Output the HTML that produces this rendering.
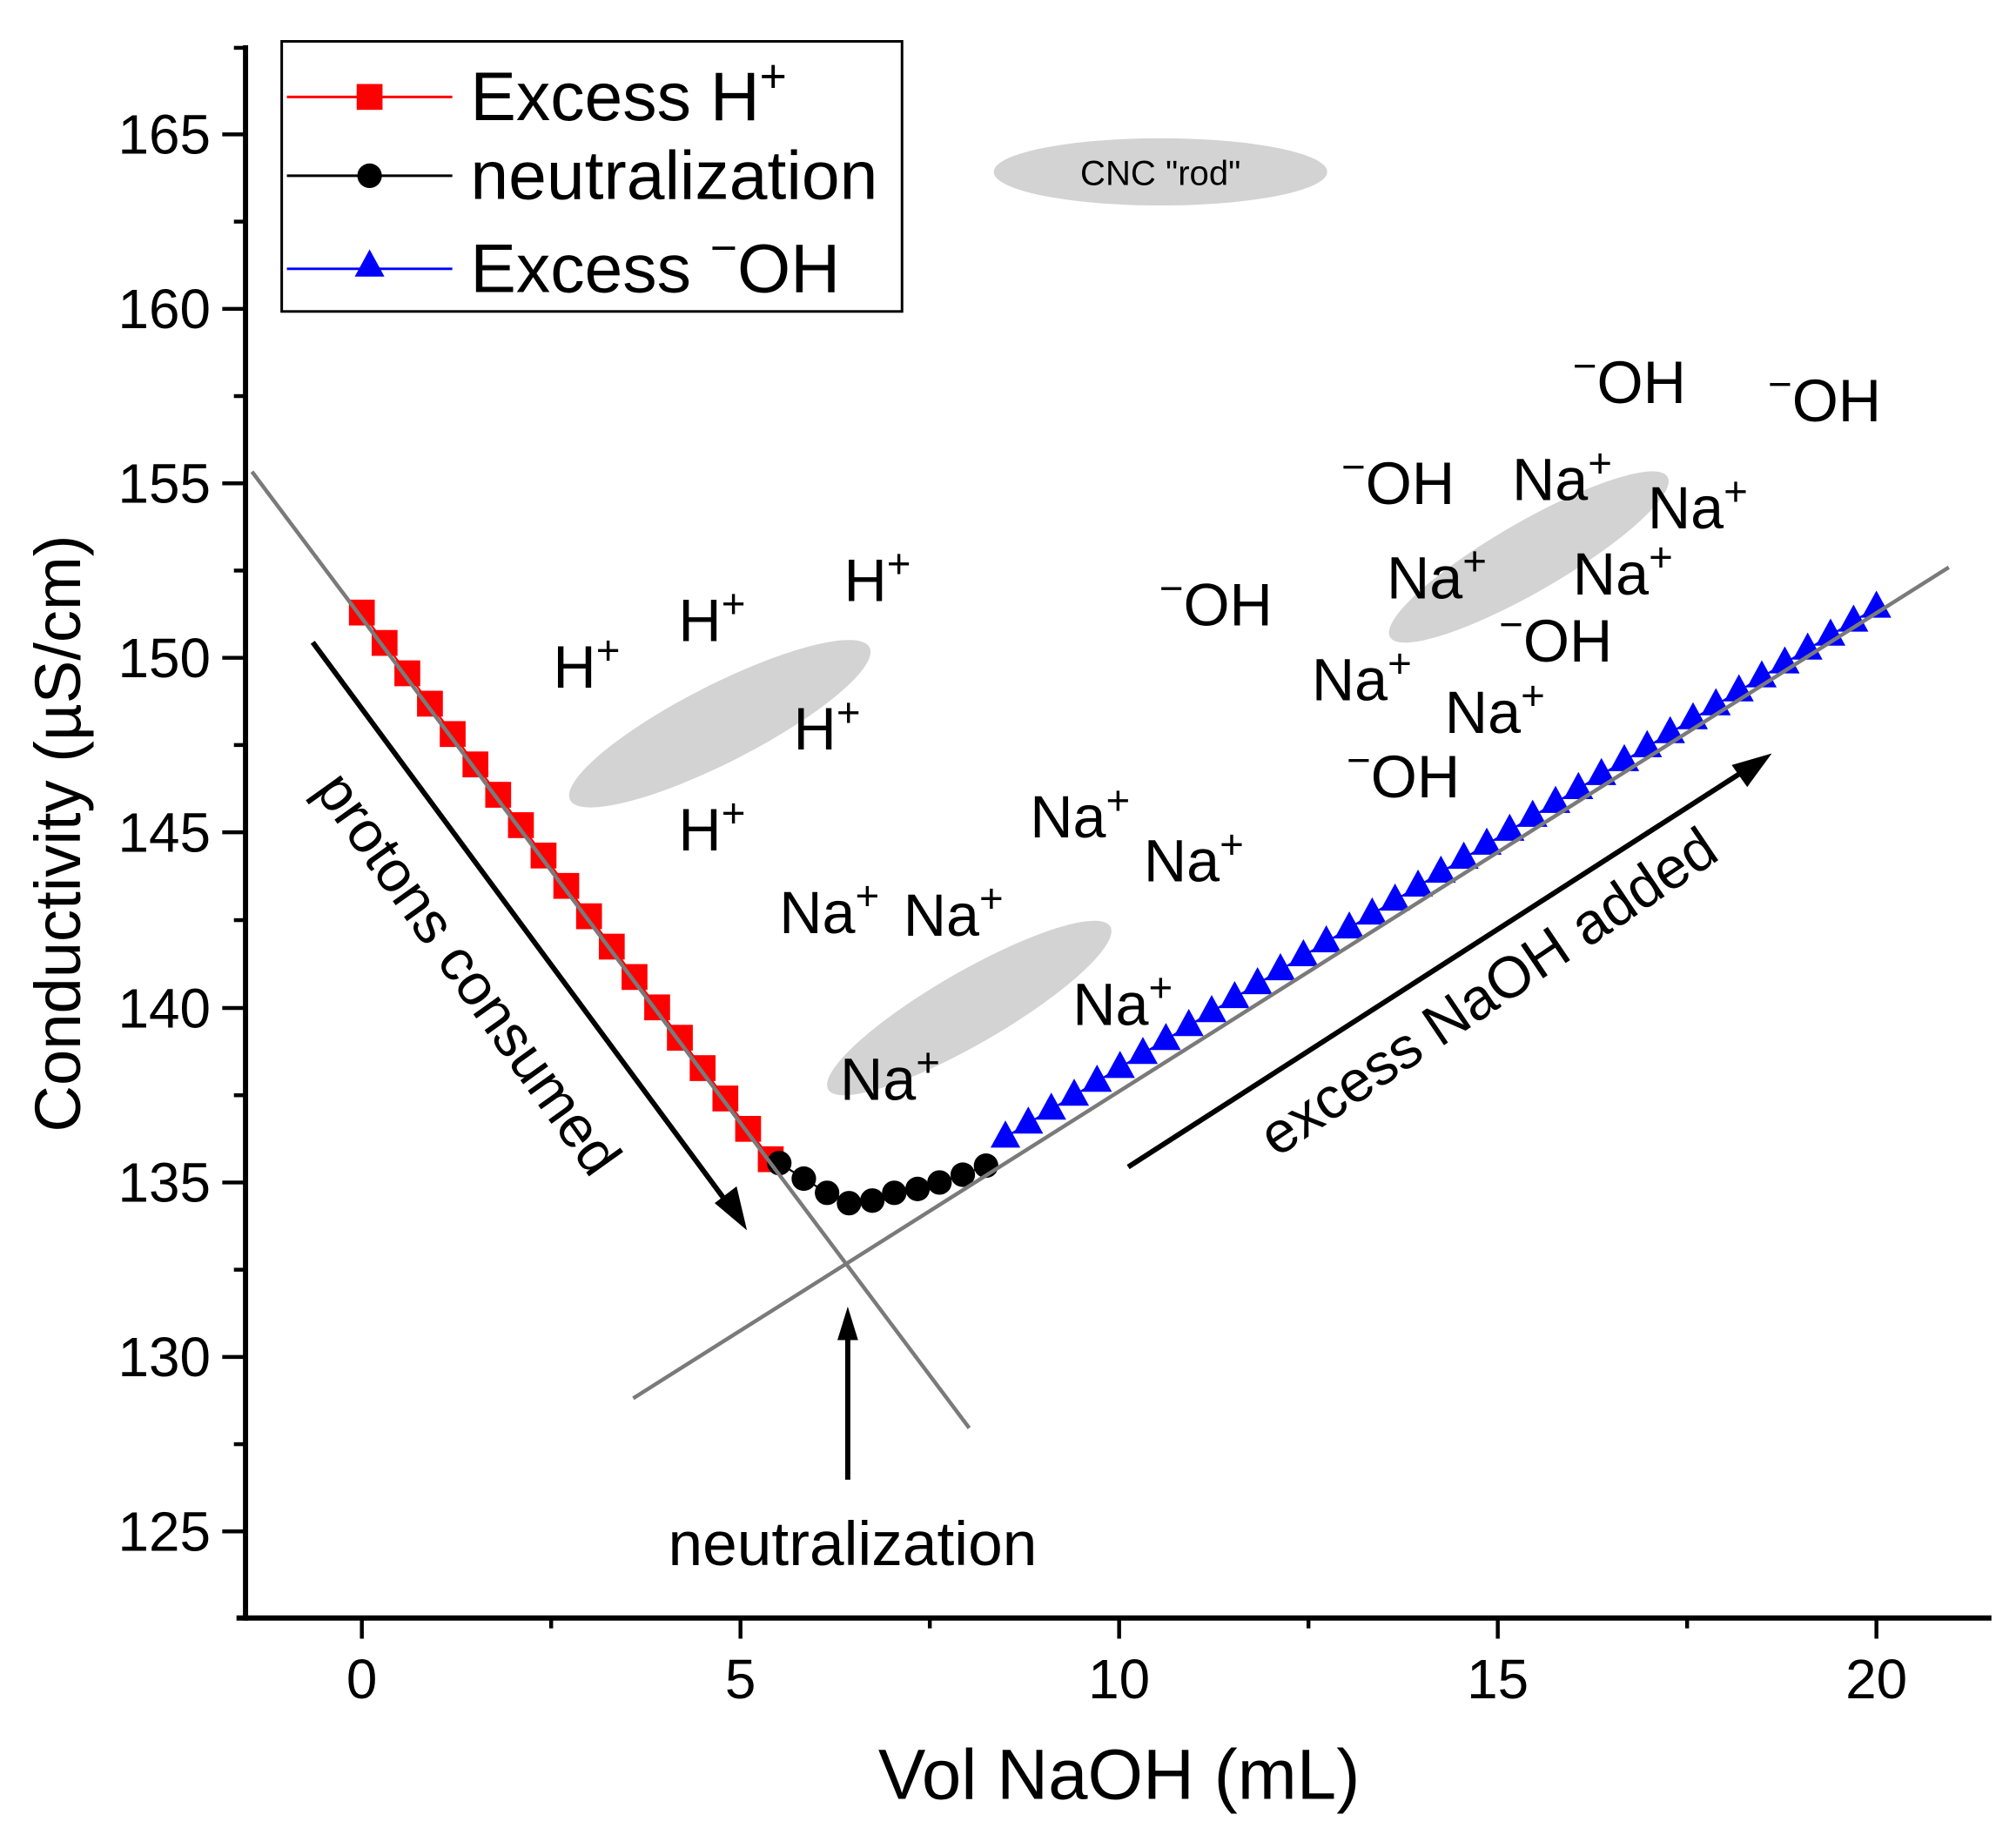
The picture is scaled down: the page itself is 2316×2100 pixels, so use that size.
<!DOCTYPE html>
<html><head><meta charset="utf-8"><style>html,body{margin:0;padding:0;background:#fff}svg{display:block}</style></head>
<body>
<svg width="2316" height="2100" viewBox="0 0 1560 1414.5" preserveAspectRatio="none" xmlns="http://www.w3.org/2000/svg" font-family="Liberation Sans, Arial, sans-serif">
<defs>
<rect id="sq" x="-10" y="-10" width="20" height="20" fill="#ff0000"/>
<circle id="ci" r="9.5" fill="#000"/>
<path id="tr" d="M0,-13 L11.5,8 L-11.5,8Z" fill="#0000ff"/>
</defs>
<rect width="1560" height="1414.5" fill="#fff"/>
<ellipse cx="898" cy="133" rx="129" ry="26" fill="#d3d3d3"/>
<ellipse cx="557" cy="560" rx="130" ry="30" fill="#d3d3d3" transform="rotate(-27 557 560)"/>
<ellipse cx="750" cy="780" rx="126" ry="28" fill="#d3d3d3" transform="rotate(-30 750 780)"/>
<ellipse cx="1183" cy="431" rx="124" ry="27" fill="#d3d3d3" transform="rotate(-30 1183 431)"/>
<text x="898" y="143" font-size="27" text-anchor="middle" fill="#000">CNC "rod"</text>
<g stroke="#000" stroke-width="4" fill="none">
<line x1="190" y1="35" x2="190" y2="1254"/>
<line x1="183" y1="1252" x2="1541" y2="1252"/>
</g>
<g stroke="#000" stroke-width="3">
<line x1="280" y1="1252" x2="280" y2="1268"/><line x1="573" y1="1252" x2="573" y2="1268"/><line x1="866" y1="1252" x2="866" y2="1268"/><line x1="1159" y1="1252" x2="1159" y2="1268"/><line x1="1452" y1="1252" x2="1452" y2="1268"/>
<line x1="426.5" y1="1252" x2="426.5" y2="1260"/><line x1="719.5" y1="1252" x2="719.5" y2="1260"/><line x1="1012.5" y1="1252" x2="1012.5" y2="1260"/><line x1="1305.5" y1="1252" x2="1305.5" y2="1260"/>
<line x1="172" y1="104" x2="190" y2="104"/><line x1="172" y1="239" x2="190" y2="239"/><line x1="172" y1="374" x2="190" y2="374"/><line x1="172" y1="509" x2="190" y2="509"/><line x1="172" y1="644" x2="190" y2="644"/><line x1="172" y1="780" x2="190" y2="780"/><line x1="172" y1="915" x2="190" y2="915"/><line x1="172" y1="1050" x2="190" y2="1050"/><line x1="172" y1="1185" x2="190" y2="1185"/>
<line x1="181" y1="37" x2="190" y2="37"/><line x1="181" y1="171.5" x2="190" y2="171.5"/><line x1="181" y1="306.5" x2="190" y2="306.5"/><line x1="181" y1="441.5" x2="190" y2="441.5"/><line x1="181" y1="576.5" x2="190" y2="576.5"/><line x1="181" y1="712" x2="190" y2="712"/><line x1="181" y1="847.5" x2="190" y2="847.5"/><line x1="181" y1="982.5" x2="190" y2="982.5"/><line x1="181" y1="1117.5" x2="190" y2="1117.5"/>
</g>
<g font-size="43" fill="#000" text-anchor="end">
<text x="163" y="119">165</text><text x="163" y="254">160</text><text x="163" y="389">155</text><text x="163" y="524">150</text><text x="163" y="659">145</text><text x="163" y="795">140</text><text x="163" y="930">135</text><text x="163" y="1065">130</text><text x="163" y="1200">125</text>
</g>
<g font-size="43" fill="#000" text-anchor="middle">
<text x="280" y="1314">0</text><text x="573" y="1314">5</text><text x="866" y="1314">10</text><text x="1159" y="1314">15</text><text x="1452" y="1314">20</text>
</g>
<text x="866" y="1392" font-size="55" text-anchor="middle">Vol NaOH (mL)</text>
<text transform="translate(62,645) rotate(-90)" font-size="50" text-anchor="middle">Conductivity (µS/cm)</text>
<polyline fill="none" stroke="#ff0000" stroke-width="1.5" points="280,474 596.4,897"/>
<polyline fill="none" stroke="#000" stroke-width="1.5" points="603,900 622,912 640,923 657,931 675,929 692,923 710,920 727,915 745,909 763,902"/>
<polyline fill="none" stroke="#0000ff" stroke-width="1.5" points="778,880 1452,470"/>
<use href="#sq" x="280" y="474"/><use href="#sq" x="297.6" y="497.5"/><use href="#sq" x="315.2" y="521"/><use href="#sq" x="332.7" y="544.5"/><use href="#sq" x="350.3" y="568"/><use href="#sq" x="367.9" y="591.5"/><use href="#sq" x="385.5" y="615"/><use href="#sq" x="403.1" y="638.5"/><use href="#sq" x="420.6" y="662"/><use href="#sq" x="438.2" y="685.5"/><use href="#sq" x="455.8" y="709"/><use href="#sq" x="473.4" y="732.5"/><use href="#sq" x="491" y="756"/><use href="#sq" x="508.5" y="779.5"/><use href="#sq" x="526.1" y="803"/><use href="#sq" x="543.7" y="826.5"/><use href="#sq" x="561.3" y="850"/><use href="#sq" x="578.9" y="873.5"/><use href="#sq" x="596.4" y="897"/>
<use href="#ci" x="603" y="900"/><use href="#ci" x="622" y="912"/><use href="#ci" x="640" y="923"/><use href="#ci" x="657" y="931"/><use href="#ci" x="675" y="929"/><use href="#ci" x="692" y="923"/><use href="#ci" x="710" y="920"/><use href="#ci" x="727" y="915"/><use href="#ci" x="745" y="909"/><use href="#ci" x="763" y="902"/>
<use href="#tr" x="778" y="880"/><use href="#tr" x="795.7" y="869.2"/><use href="#tr" x="813.5" y="858.4"/><use href="#tr" x="831.2" y="847.6"/><use href="#tr" x="848.9" y="836.8"/><use href="#tr" x="866.7" y="826.1"/><use href="#tr" x="884.4" y="815.3"/><use href="#tr" x="902.2" y="804.5"/><use href="#tr" x="919.9" y="793.7"/><use href="#tr" x="937.6" y="782.9"/><use href="#tr" x="955.4" y="772.1"/><use href="#tr" x="973.1" y="761.3"/><use href="#tr" x="990.8" y="750.5"/><use href="#tr" x="1008.6" y="739.7"/><use href="#tr" x="1026.3" y="728.9"/><use href="#tr" x="1044.1" y="718.2"/><use href="#tr" x="1061.8" y="707.4"/><use href="#tr" x="1079.5" y="696.6"/><use href="#tr" x="1097.3" y="685.8"/><use href="#tr" x="1115" y="675"/><use href="#tr" x="1132.7" y="664.2"/><use href="#tr" x="1150.5" y="653.4"/><use href="#tr" x="1168.2" y="642.6"/><use href="#tr" x="1186" y="631.8"/><use href="#tr" x="1203.7" y="621"/><use href="#tr" x="1221.4" y="610.3"/><use href="#tr" x="1239.2" y="599.5"/><use href="#tr" x="1256.9" y="588.7"/><use href="#tr" x="1274.6" y="577.9"/><use href="#tr" x="1292.4" y="567.1"/><use href="#tr" x="1310.1" y="556.3"/><use href="#tr" x="1327.8" y="545.5"/><use href="#tr" x="1345.6" y="534.7"/><use href="#tr" x="1363.3" y="523.9"/><use href="#tr" x="1381.1" y="513.1"/><use href="#tr" x="1398.8" y="502.4"/><use href="#tr" x="1416.5" y="491.6"/><use href="#tr" x="1434.3" y="480.8"/><use href="#tr" x="1452" y="470"/>
<g stroke="#7a7a7a" stroke-width="3">
<line x1="195" y1="365" x2="750" y2="1105"/>
<line x1="490" y1="1082" x2="1508" y2="439"/>
</g>
<g stroke="#000" stroke-width="4">
<line x1="242" y1="497" x2="568" y2="938"/>
<line x1="656" y1="1145" x2="656" y2="1030"/>
<line x1="873" y1="903" x2="1355" y2="593"/>
</g>
<path d="M578,952 L553,931 L570,918Z" fill="#000"/>
<path d="M656,1011 L648,1037 L664,1037Z" fill="#000"/>
<path d="M1371,583 L1340,592 L1352,609Z" fill="#000"/>
<text transform="translate(350,762) rotate(54.5)" font-size="45" text-anchor="middle">protons consumed</text>
<text transform="translate(1160,780) rotate(-34)" font-size="45" text-anchor="middle">excess NaOH added</text>
<text x="517" y="1211" font-size="48">neutralization</text>
<g font-size="46" fill="#000">
<text x="428" y="532">H<tspan font-size="32" dy="-18">+</tspan></text>
<text x="525" y="496">H<tspan font-size="32" dy="-18">+</tspan></text>
<text x="653" y="465">H<tspan font-size="32" dy="-18">+</tspan></text>
<text x="614" y="580">H<tspan font-size="32" dy="-18">+</tspan></text>
<text x="525" y="658">H<tspan font-size="32" dy="-18">+</tspan></text>
<text x="603" y="722">Na<tspan font-size="32" dy="-18">+</tspan></text>
<text x="699" y="724">Na<tspan font-size="32" dy="-18">+</tspan></text>
<text x="797" y="648">Na<tspan font-size="32" dy="-18">+</tspan></text>
<text x="885" y="682">Na<tspan font-size="32" dy="-18">+</tspan></text>
<text x="830" y="793">Na<tspan font-size="32" dy="-18">+</tspan></text>
<text x="650" y="851">Na<tspan font-size="32" dy="-18">+</tspan></text>
<text x="1015" y="542">Na<tspan font-size="32" dy="-18">+</tspan></text>
<text x="1118" y="567">Na<tspan font-size="32" dy="-18">+</tspan></text>
<text x="1073" y="463">Na<tspan font-size="32" dy="-18">+</tspan></text>
<text x="1217" y="460">Na<tspan font-size="32" dy="-18">+</tspan></text>
<text x="1275" y="409">Na<tspan font-size="32" dy="-18">+</tspan></text>
<text x="1170" y="387">Na<tspan font-size="32" dy="-18">+</tspan></text>
<text x="897" y="484"><tspan font-size="32" dy="-18">−</tspan><tspan dy="18">OH</tspan></text>
<text x="1038" y="390"><tspan font-size="32" dy="-18">−</tspan><tspan dy="18">OH</tspan></text>
<text x="1160" y="512"><tspan font-size="32" dy="-18">−</tspan><tspan dy="18">OH</tspan></text>
<text x="1042" y="617"><tspan font-size="32" dy="-18">−</tspan><tspan dy="18">OH</tspan></text>
<text x="1217" y="312"><tspan font-size="32" dy="-18">−</tspan><tspan dy="18">OH</tspan></text>
<text x="1368" y="326"><tspan font-size="32" dy="-18">−</tspan><tspan dy="18">OH</tspan></text>
</g>
<rect x="218" y="32" width="480" height="209" fill="#fff" stroke="#000" stroke-width="2"/>
<line x1="222" y1="75" x2="350" y2="75" stroke="#ff0000" stroke-width="2"/>
<use href="#sq" x="286" y="75"/>
<line x1="222" y1="136" x2="350" y2="136" stroke="#000" stroke-width="2"/>
<use href="#ci" x="286" y="136"/>
<line x1="222" y1="208" x2="350" y2="208" stroke="#0000ff" stroke-width="2"/>
<use href="#tr" x="286" y="206"/>
<g font-size="53" fill="#000">
<text x="364" y="93">Excess H<tspan font-size="36" dy="-22">+</tspan></text>
<text x="364" y="154">neutralization</text>
<text x="364" y="226">Excess <tspan font-size="36" dy="-22">−</tspan><tspan dy="22">OH</tspan></text>
</g>
</svg>
</body></html>
